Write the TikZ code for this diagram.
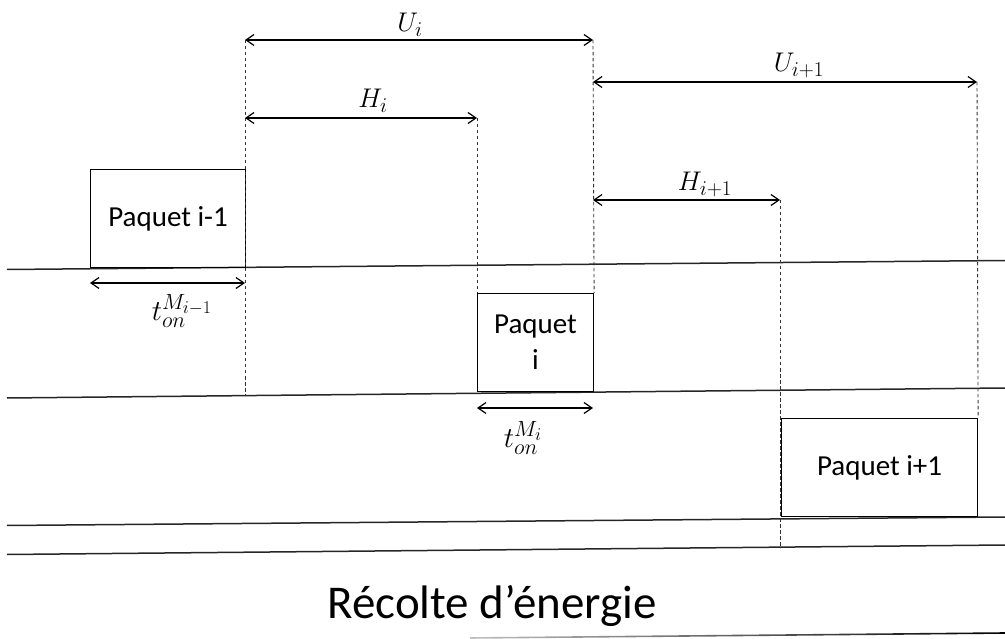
\RequirePackage{fix-cm}
\documentclass[tikz,border=0pt]{standalone}
\usepackage{fontspec}
\setmainfont{Carlito}
\usetikzlibrary{arrows.meta}
\DeclareMathSizes{27}{27}{21}{17}
\DeclareMathSizes{29}{29}{22}{18}
\begin{document}
\begin{tikzpicture}[x=1pt,y=-1pt,
  track/.style={line width=1.5pt, draw=black!85},
  pkt/.style={draw, line width=1.1pt, inner sep=0pt, anchor=north west, align=center,
    font=\fontsize{29}{36}\selectfont},
  guide/.style={dash pattern=on 3.5pt off 2.5pt, line width=0.9pt, draw=black!80},
  dim/.style={{Straight Barb[length=8pt,width=11pt]}-{Straight Barb[length=8pt,width=11pt]}, line width=1.2pt},
  lbl/.style={font=\fontsize{27}{32}\selectfont, inner sep=0pt, anchor=base},
  tlbl/.style={font=\fontsize{29}{34}\selectfont, inner sep=0pt, anchor=base}]
\useasboundingbox (0,0) rectangle (1005,639);
% tracks
\coordinate (l1a) at (7,269.5);   \coordinate (l1b) at (1005,260.5);
\coordinate (l2a) at (7,398);     \coordinate (l2b) at (1005,388);
\coordinate (l3a) at (7,525.5);   \coordinate (l3b) at (1005,517);
\coordinate (l4a) at (7,554.5);   \coordinate (l4b) at (1005,545);
\draw[track] (l1a) -- (l1b);
\draw[track] (l2a) -- (l2b);
\draw[track] (l3a) -- (l3b);
\draw[track] (l4a) -- (l4b);
\shade[left color=black!25, right color=black] (470,637.2) -- (1005,632.2) -- (1005,633.8) -- (470,638.8) -- cycle;
% packets
\node[pkt, minimum width=155pt, minimum height=98pt] (P0) at (90,169) {Paquet i-1};
\node[pkt, minimum width=116pt, minimum height=98pt] (P1) at (477,293) {Paquet\\i};
\node[pkt, minimum width=196pt, minimum height=98pt] (P2) at (781,418) {Paquet i+1};
% guide coordinates
\coordinate (g1t) at (245,40);  \coordinate (g1b) at (245,396);
\coordinate (g2t) at (477,118); \coordinate (g2b) at (P1.north west);
\coordinate (g3t) at (593,40);  \coordinate (g3b) at (P1.north east);
\coordinate (g4t) at (780,200); \coordinate (g4b) at (780,548);
\coordinate (g5t) at (977,82);  \coordinate (g5b) at (P2.north east);
\draw[guide] (g1t) -- (g1b);
\draw[guide] (g2t) -- (g2b);
\draw[guide] (g3t) -- (g3b);
\draw[guide] (g4t) -- (g4b);
\draw[guide] (g5t) -- (g5b);
% dimension arrows
\coordinate (hiL) at (245,118);
\coordinate (ui1L) at (593,82);
\coordinate (hi1L) at (593,200);
\draw[dim] (g1t) -- (g3t);
\draw[dim] (hiL) -- (g2t);
\draw[dim] (ui1L) -- (g5t);
\draw[dim] (hi1L) -- (g4t);
\coordinate (t0L) at (90,283);  \coordinate (t0R) at (245,283);
\coordinate (t1L) at (477,408); \coordinate (t1R) at (593,408);
\draw[dim] (t0L) -- (t0R);
\draw[dim] (t1L) -- (t1R);
% labels
\node[lbl] (Ui) at (410,32) {$U_i$};
\node[lbl] (Hi) at (373,108) {$H_i$};
\node[lbl] (Ui1) at (799,72) {$U_{i+1}$};
\node[lbl] (Hi1) at (705,191) {$H_{i+1}$};
\node[tlbl] (T0) at (182,320) {$t_{on}^{M_{i-1}}$};
\node[tlbl] (T1) at (523,447) {$t_{on}^{M_i}$};
\node[font=\fontsize{47}{52}\selectfont, inner sep=0pt, anchor=base] (title) at (492,618) {Récolte d’énergie};
\end{tikzpicture}
\end{document}
